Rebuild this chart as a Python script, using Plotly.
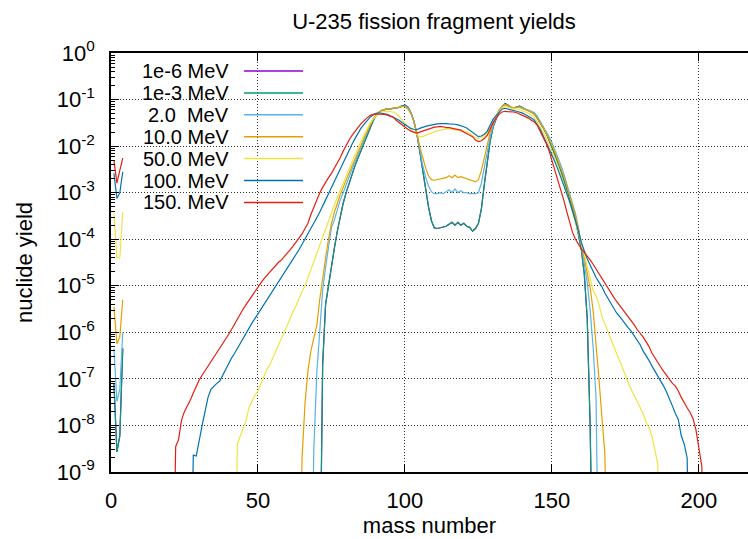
import plotly.graph_objects as go

# ---------------- data ----------------
names = ["1e-6 MeV", "1e-3 MeV", "2.0\u00a0 MeV", "10.0 MeV", "50.0 MeV", "100. MeV", "150. MeV"]
colors = ["#9400d3", "#009e73", "#56b4e9", "#e69f00", "#f0e442", "#0072b2", "#e51e10"]

light_A = [1, 2, 3, 4]

# light-fragment yields (A = 1..4)
th6_light = [8e-8, 2.7e-9, 6e-9, 4.5e-7]
th3_light = [8e-8, 2.7e-9, 6e-9, 4.5e-7]
e2_light = [4.5e-7, 3.3e-8, 6e-8, 1e-6]
e10_light = [3.5e-6, 5.7e-7, 8e-7, 5e-6]
e50_light = [3.6e-4, 4e-5, 4e-5, 3.8e-4]
e100_light = [2.6e-3, 7.5e-4, 1e-3, 2.8e-3]
e150_light = [5e-3, 1.6e-3, 3e-3, 5.5e-3]

# fission-fragment yields, consecutive mass numbers starting at *_start
th6_start = 71
th6_main = [1e-12, 2e-7, 4e-6, 1.1e-5, 2.8e-5, 6.5e-5, 1.5e-4, 3e-4, 6e-4, 1e-3,
            1.6e-3, 2.6e-3, 3.8e-3, 5.5e-3, 8e-3, 1.1e-2, 1.6e-2, 2.3e-2, 3.3e-2, 4.4e-2,
            5.2e-2, 5.8e-2, 6.2e-2, 6.4e-2, 6.3e-2, 6.4e-2, 6.5e-2, 6.8e-2, 7.3e-2, 7.6e-2,
            6.9e-2, 5.3e-2, 3.5e-2, 1.9e-2, 8e-3, 3e-3, 1.3e-3, 5e-4, 2.5e-4, 1.75e-4,
            1.7e-4, 1.75e-4, 1.8e-4, 1.9e-4, 2.1e-4, 2.3e-4, 2e-4, 2.3e-4, 2e-4, 2.2e-4,
            1.9e-4, 1.8e-4, 1.5e-4, 1.7e-4, 2.2e-4, 4.5e-4, 1.5e-3, 5e-3, 1.3e-2, 2.6e-2,
            4e-2, 5.5e-2, 7e-2, 8.2e-2, 7.6e-2, 6.8e-2, 6.5e-2, 7e-2, 7.2e-2, 6.6e-2,
            6.2e-2, 5.8e-2, 5.4e-2, 5e-2, 4e-2, 3.2e-2, 2.5e-2, 1.9e-2, 1.4e-2, 9.5e-3,
            6.5e-3, 4.5e-3, 3e-3, 1.9e-3, 1.2e-3, 7.5e-4, 4.5e-4, 2.6e-4, 1.3e-4, 6e-5,
            1.8e-5, 2e-6, 1e-8, 1e-12]
th3_start = 71
th3_main = [1e-12, 2e-7, 4e-6, 1.1e-5, 2.8e-5, 6.5e-5, 1.5e-4, 3e-4, 6e-4, 1e-3,
            1.6e-3, 2.6e-3, 3.8e-3, 5.5e-3, 8e-3, 1.1e-2, 1.6e-2, 2.3e-2, 3.3e-2, 4.4e-2,
            5.2e-2, 5.8e-2, 6.2e-2, 6.4e-2, 6.3e-2, 6.4e-2, 6.5e-2, 6.8e-2, 7.3e-2, 7.6e-2,
            6.9e-2, 5.3e-2, 3.5e-2, 1.9e-2, 8e-3, 3e-3, 1.3e-3, 5e-4, 2.5e-4, 1.75e-4,
            1.7e-4, 1.75e-4, 1.8e-4, 1.9e-4, 2.1e-4, 2.3e-4, 2e-4, 2.3e-4, 2e-4, 2.2e-4,
            1.9e-4, 1.8e-4, 1.5e-4, 1.7e-4, 2.2e-4, 4.5e-4, 1.5e-3, 5e-3, 1.3e-2, 2.6e-2,
            4e-2, 5.5e-2, 7e-2, 8.2e-2, 7.6e-2, 6.8e-2, 6.5e-2, 7e-2, 7.2e-2, 6.6e-2,
            6.2e-2, 5.8e-2, 5.4e-2, 5e-2, 4e-2, 3.2e-2, 2.5e-2, 1.9e-2, 1.4e-2, 9.5e-3,
            6.5e-3, 4.5e-3, 3e-3, 1.9e-3, 1.2e-3, 7.5e-4, 4.5e-4, 2.6e-4, 1.3e-4, 6e-5,
            1.8e-5, 2e-6, 1e-8, 1e-12]
e2_start = 68
e2_main = [1e-12, 3e-9, 1.3e-7, 1e-6, 8e-6, 2.5e-5, 6e-5, 1.8e-4, 2.6e-4, 4.5e-4,
           7e-4, 1e-3, 1.5e-3, 2.2e-3, 3.2e-3, 4.5e-3, 6.5e-3, 9e-3, 1.3e-2, 1.9e-2,
           2.7e-2, 3.6e-2, 4.5e-2, 5.3e-2, 5.8e-2, 6.1e-2, 6.3e-2, 6.3e-2, 6.4e-2, 6.5e-2,
           6.8e-2, 7.1e-2, 7.2e-2, 6.6e-2, 5.2e-2, 3.5e-2, 2e-2, 9e-3, 4e-3, 2.2e-3,
           1.4e-3, 1.05e-3, 9.5e-4, 9.5e-4, 1e-3, 9.5e-4, 1.05e-3, 1.15e-3, 1e-3, 1.2e-3,
           1e-3, 1.1e-3, 1e-3, 1e-3, 9.5e-4, 9.5e-4, 9.5e-4, 1e-3, 1.6e-3, 3.5e-3,
           8e-3, 1.6e-2, 2.8e-2, 4.2e-2, 5.7e-2, 7e-2, 7.8e-2, 7.3e-2, 6.8e-2, 6.6e-2,
           6.9e-2, 7e-2, 6.6e-2, 6.3e-2, 6e-2, 5.6e-2, 5.2e-2, 4.4e-2, 3.4e-2, 2.7e-2,
           2.1e-2, 1.6e-2, 1.2e-2, 8.5e-3, 6e-3, 4e-3, 2.6e-3, 1.6e-3, 1e-3, 6e-4,
           3.6e-4, 1.8e-4, 7e-5, 3e-5, 1.2e-5, 3e-6, 5e-7, 4e-8, 1e-12]
e10_start = 64
e10_main = [1e-12, 2e-9, 3e-8, 1.5e-7, 4e-7, 8e-7, 1.4e-6, 5e-6, 1.5e-5, 4e-5,
            1e-4, 2.2e-4, 3.8e-4, 6e-4, 9e-4, 1.3e-3, 1.9e-3, 2.7e-3, 3.8e-3, 5.2e-3,
            7.5e-3, 1.05e-2, 1.45e-2, 2e-2, 2.8e-2, 3.7e-2, 4.6e-2, 5.3e-2, 5.8e-2, 6.1e-2,
            6.3e-2, 6.4e-2, 6.5e-2, 6.6e-2, 6.9e-2, 7.1e-2, 7e-2, 6.3e-2, 5e-2, 3.4e-2,
            2e-2, 1e-2, 5.5e-3, 3.5e-3, 2.3e-3, 1.9e-3, 1.85e-3, 1.9e-3, 2e-3, 2e-3,
            2.1e-3, 2.3e-3, 2.1e-3, 2.4e-3, 2.1e-3, 2.2e-3, 2.1e-3, 2e-3, 1.9e-3, 1.8e-3,
            1.7e-3, 1.9e-3, 3e-3, 5.5e-3, 1.1e-2, 2e-2, 3.2e-2, 4.6e-2, 6e-2, 7.2e-2,
            7.9e-2, 7.4e-2, 6.9e-2, 6.6e-2, 6.8e-2, 6.8e-2, 6.4e-2, 6.1e-2, 5.7e-2, 5.3e-2,
            4.8e-2, 4e-2, 3.2e-2, 2.5e-2, 1.9e-2, 1.45e-2, 1.05e-2, 7.5e-3, 5.2e-3, 3.5e-3,
            2.3e-3, 1.45e-3, 9e-4, 5.5e-4, 3.2e-4, 1.7e-4, 8.5e-5, 4e-5, 1.8e-5, 9e-6,
            3e-6, 6e-7, 1e-7, 1.5e-8, 2.5e-9, 1e-12]
e50_start = 42
e50_main = [1e-12, 4e-9, 6e-9, 9e-9, 1.3e-8, 2.5e-8, 3.5e-8, 4.5e-8, 5.5e-8, 8e-8,
            1.1e-7, 1.6e-7, 2e-7, 2.8e-7, 4e-7, 5.5e-7, 7.5e-7, 1e-6, 1.4e-6, 2e-6,
            2.8e-6, 3.8e-6, 5.5e-6, 7.5e-6, 1e-5, 1.5e-5, 2.3e-5, 3.5e-5, 5e-5, 8e-5,
            1.2e-4, 1.8e-4, 2.6e-4, 3.8e-4, 5.5e-4, 8e-4, 1.1e-3, 1.6e-3, 2.3e-3, 3.3e-3,
            4.6e-3, 6.5e-3, 9e-3, 1.25e-2, 1.7e-2, 2.3e-2, 3e-2, 3.7e-2, 4.4e-2, 5e-2,
            5.4e-2, 5.6e-2, 5.6e-2, 5.5e-2, 5.4e-2, 5e-2, 4.4e-2, 3.7e-2, 3.1e-2, 2.6e-2,
            2.3e-2, 2e-2, 1.75e-2, 1.6e-2, 1.6e-2, 1.7e-2, 1.8e-2, 1.95e-2, 2.05e-2, 2.15e-2,
            2.2e-2, 2.3e-2, 2.35e-2, 2.35e-2, 2.3e-2, 2.3e-2, 2.25e-2, 2.2e-2, 2.15e-2, 2.05e-2,
            1.9e-2, 1.7e-2, 1.5e-2, 1.45e-2, 1.55e-2, 1.65e-2, 1.9e-2, 2.6e-2, 3.4e-2, 4.4e-2,
            5.6e-2, 6.6e-2, 7.1e-2, 6.8e-2, 6.5e-2, 6.3e-2, 6.4e-2, 6.1e-2, 5.8e-2, 5.4e-2,
            5.1e-2, 4.6e-2, 4.1e-2, 3.3e-2, 2.6e-2, 2e-2, 1.5e-2, 1.1e-2, 7.8e-3, 5.5e-3,
            3.8e-3, 2.5e-3, 1.6e-3, 1e-3, 6.2e-4, 3.8e-4, 2.3e-4, 1.4e-4, 8e-5, 5e-5,
            2.6e-5, 1.4e-5, 8e-6, 6e-6, 4e-6, 2.2e-6, 1.5e-6, 1.1e-6, 7e-7, 5e-7,
            3.5e-7, 2.5e-7, 1.8e-7, 1.2e-7, 8e-8, 6e-8, 4.5e-8, 3.2e-8, 2.5e-8, 1.8e-8,
            1.2e-8, 9e-9, 6e-9, 3e-9, 1.5e-9, 1e-12]
e100_start = 27
e100_main = [1e-12, 2.3e-9, 2.2e-9, 5e-9, 1e-8, 2e-8, 4e-8, 6e-8, 7e-8, 8e-8,
             9e-8, 1.2e-7, 1.7e-7, 2.2e-7, 2.8e-7, 3.5e-7, 4.5e-7, 6e-7, 8e-7, 1e-6,
             1.3e-6, 1.6e-6, 2e-6, 2.5e-6, 3.2e-6, 4e-6, 5e-6, 6.2e-6, 7.7e-6, 9.5e-6,
             1.2e-5, 1.5e-5, 1.9e-5, 2.4e-5, 3e-5, 3.8e-5, 4.8e-5, 6e-5, 7.8e-5, 1e-4,
             1.3e-4, 1.7e-4, 2.2e-4, 2.9e-4, 3.8e-4, 5e-4, 7e-4, 9.5e-4, 1.3e-3, 1.8e-3,
             2.5e-3, 3.3e-3, 4.5e-3, 6.2e-3, 8.3e-3, 1.1e-2, 1.45e-2, 1.9e-2, 2.4e-2, 2.9e-2,
             3.5e-2, 4.1e-2, 4.6e-2, 5e-2, 5.2e-2, 5.1e-2, 4.9e-2, 4.8e-2, 4.5e-2, 4.2e-2,
             4e-2, 3.6e-2, 3.2e-2, 2.9e-2, 2.6e-2, 2.4e-2, 2.3e-2, 2.25e-2, 2.4e-2, 2.55e-2,
             2.65e-2, 2.75e-2, 2.85e-2, 2.9e-2, 3e-2, 3.05e-2, 3.1e-2, 3.05e-2, 3e-2, 3e-2,
             2.95e-2, 2.85e-2, 2.75e-2, 2.6e-2, 2.45e-2, 2.2e-2, 2e-2, 1.8e-2, 1.6e-2, 1.65e-2,
             1.8e-2, 2.1e-2, 2.9e-2, 3.8e-2, 4.5e-2, 5.3e-2, 6.2e-2, 6.5e-2, 6.2e-2, 6e-2,
             5.8e-2, 5.6e-2, 5.4e-2, 5.1e-2, 4.7e-2, 4.4e-2, 4e-2, 3.6e-2, 2.9e-2, 2.3e-2,
             1.7e-2, 1.25e-2, 9e-3, 6.5e-3, 4.6e-3, 3.2e-3, 2.2e-3, 1.5e-3, 1e-3, 6.5e-4,
             4e-4, 2.5e-4, 1.5e-4, 8.5e-5, 5.5e-5, 3.8e-5, 2.8e-5, 2e-5, 1.5e-5, 1.2e-5,
             9.5e-6, 7e-6, 5.5e-6, 4.3e-6, 3.3e-6, 2.6e-6, 2.2e-6, 1.8e-6, 1.5e-6, 1.25e-6,
             1.05e-6, 8.5e-7, 6.8e-7, 5.4e-7, 4e-7, 3.2e-7, 2.5e-7, 1.9e-7, 1.5e-7, 1.15e-7,
             9e-8, 7e-8, 5.2e-8, 3.8e-8, 2.6e-8, 1.8e-8, 1.35e-8, 6e-9, 4e-9, 2e-9,
             1e-12]
e150_start = 21
e150_main = [1e-12, 3.5e-9, 5e-9, 1.3e-8, 2e-8, 2.6e-8, 3.5e-8, 5e-8, 7e-8, 9.5e-8,
             1.2e-7, 1.5e-7, 1.9e-7, 2.3e-7, 2.8e-7, 3.6e-7, 4.5e-7, 5.5e-7, 7e-7, 9e-7,
             1.15e-6, 1.5e-6, 1.9e-6, 2.5e-6, 3.2e-6, 4e-6, 5e-6, 6.3e-6, 7.8e-6, 9.6e-6,
             1.15e-5, 1.4e-5, 1.65e-5, 2e-5, 2.4e-5, 2.8e-5, 3.2e-5, 3.6e-5, 4.2e-5, 5e-5,
             6e-5, 7.2e-5, 8.6e-5, 1.05e-4, 1.3e-4, 1.7e-4, 2.2e-4, 3.4e-4, 5e-4, 7.2e-4,
             9.8e-4, 1.3e-3, 1.7e-3, 2.1e-3, 2.6e-3, 3.3e-3, 4.3e-3, 5.7e-3, 7.8e-3, 1.05e-2,
             1.35e-2, 1.7e-2, 2.1e-2, 2.5e-2, 3e-2, 3.5e-2, 4e-2, 4.5e-2, 4.8e-2, 4.9e-2,
             4.9e-2, 4.9e-2, 4.8e-2, 4.6e-2, 4.4e-2, 4.2e-2, 3.6e-2, 3.2e-2, 2.9e-2, 2.5e-2,
             2.3e-2, 2.1e-2, 2e-2, 1.9e-2, 2e-2, 2.1e-2, 2.25e-2, 2.4e-2, 2.5e-2, 2.55e-2,
             2.6e-2, 2.65e-2, 2.6e-2, 2.5e-2, 2.5e-2, 2.4e-2, 2.3e-2, 2.25e-2, 2.2e-2, 2e-2,
             1.85e-2, 1.75e-2, 1.6e-2, 1.35e-2, 1.25e-2, 1.3e-2, 1.45e-2, 1.7e-2, 2.4e-2, 3.2e-2,
             4e-2, 4.8e-2, 5.4e-2, 5.6e-2, 5.5e-2, 5.5e-2, 5.4e-2, 5.2e-2, 4.9e-2, 4.6e-2,
             4.3e-2, 4e-2, 3.6e-2, 3.3e-2, 2.8e-2, 2.1e-2, 1.5e-2, 1.15e-2, 8e-3, 5e-3,
             3.2e-3, 1.9e-3, 1.15e-3, 7e-4, 4e-4, 2.3e-4, 1.4e-4, 1e-4, 7.8e-5, 6.2e-5,
             5.2e-5, 4.4e-5, 3.6e-5, 2.9e-5, 2.3e-5, 1.8e-5, 1.4e-5, 1.1e-5, 8.6e-6, 7e-6,
             5.7e-6, 4.6e-6, 3.8e-6, 3.1e-6, 2.5e-6, 2.1e-6, 1.8e-6, 1.45e-6, 1.15e-6, 9.8e-7,
             8e-7, 6.3e-7, 5e-7, 3.6e-7, 2.8e-7, 2.2e-7, 1.8e-7, 1.45e-7, 1.2e-7, 9.5e-8,
             8e-8, 7e-8, 5.5e-8, 4e-8, 3e-8, 2.4e-8, 1.9e-8, 1.4e-8, 8e-9, 3e-9,
             1.3e-9, 1e-12]

x_ticks = [0, 50, 100, 150, 200]
y_exponents = [0, -1, -2, -3, -4, -5, -6, -7, -8, -9]

series = [
    (th6_light, th6_start, th6_main),
    (th3_light, th3_start, th3_main),
    (e2_light, e2_start, e2_main),
    (e10_light, e10_start, e10_main),
    (e50_light, e50_start, e50_main),
    (e100_light, e100_start, e100_main),
    (e150_light, e150_start, e150_main),
]

# ---------------- figure ----------------
W, H = 748, 539
L, R, T, B = 111, 0, 53, 67
PW, PH = W - L - R, H - T - B
FONT = "Liberation Sans, Arial, Helvetica, sans-serif"
FS = 22
KEY_FS = 20

fig = go.Figure()
for (light, start, main), name, col in zip(series, names, colors):
    xs = light_A + [None] + list(range(start, start + len(main)))
    ys = light + [None] + main
    fig.add_trace(go.Scatter(x=xs, y=ys, mode="lines", name=name,
                             line=dict(color=col, width=1.2), connectgaps=False,
                             showlegend=False))

# gnuplot-style key: right-aligned text with a line sample to its right
key_text_right = 230
key_line = (244, 303)
key_top = 71.0
key_step = 21.9
for i, (name, col) in enumerate(zip(names, colors)):
    yy = key_top + i * key_step
    yp = (H - B - yy) / PH
    fig.add_annotation(x=(key_text_right - L) / PW, y=yp, xref="paper", yref="paper",
                       text=name, showarrow=False, xanchor="right", yanchor="middle",
                       borderpad=0,
                       font=dict(size=KEY_FS, color="black", family=FONT))
    fig.add_shape(type="line", xref="paper", yref="paper",
                  x0=(key_line[0] - L) / PW, x1=(key_line[1] - L) / PW, y0=yp, y1=yp,
                  line=dict(color=col, width=1.5))

minor_vals = [m * 10.0 ** e for e in range(-9, 0) for m in range(2, 10)]

fig.update_layout(
    width=W, height=H,
    margin=dict(l=L, r=R, t=T, b=B),
    paper_bgcolor="white", plot_bgcolor="white",
    font=dict(family=FONT, size=FS, color="black"),
    title=dict(text="U-235 fission fragment yields", x=434 / W, xref="container",
               y=1 - 21 / H, yref="container", xanchor="center", yanchor="middle",
               font=dict(size=FS)),
    xaxis=dict(range=[0, 216.7], tickvals=x_ticks, ticks="inside", ticklen=8,
               tickcolor="black", tickwidth=1.2, showline=True, linecolor="black",
               linewidth=1.5, mirror="ticks", showgrid=True,
               gridcolor="rgba(0,0,0,0.8)", griddash="1px,2px", gridwidth=1,
               zeroline=False, ticklabelstandoff=8,
               title=dict(text="mass number", standoff=4, font=dict(size=FS))),
    yaxis=dict(type="log", range=[-9, 0],
               tickvals=[10.0 ** e for e in y_exponents],
               ticktext=["10<sup>%d</sup>" % e for e in y_exponents],
               ticks="inside", ticklen=8, tickcolor="black", tickwidth=1.2,
               minor=dict(tickvals=minor_vals, ticks="inside", ticklen=4,
                          tickcolor="black", tickwidth=1, showgrid=False),
               showline=True, linecolor="black", linewidth=1.5, mirror=False,
               showgrid=True, gridcolor="rgba(0,0,0,0.8)", griddash="1px,2px",
               gridwidth=1, ticklabelstandoff=10,
               title=dict(text="nuclide yield", standoff=18, font=dict(size=FS))),
)

fig.write_html("out.html")
